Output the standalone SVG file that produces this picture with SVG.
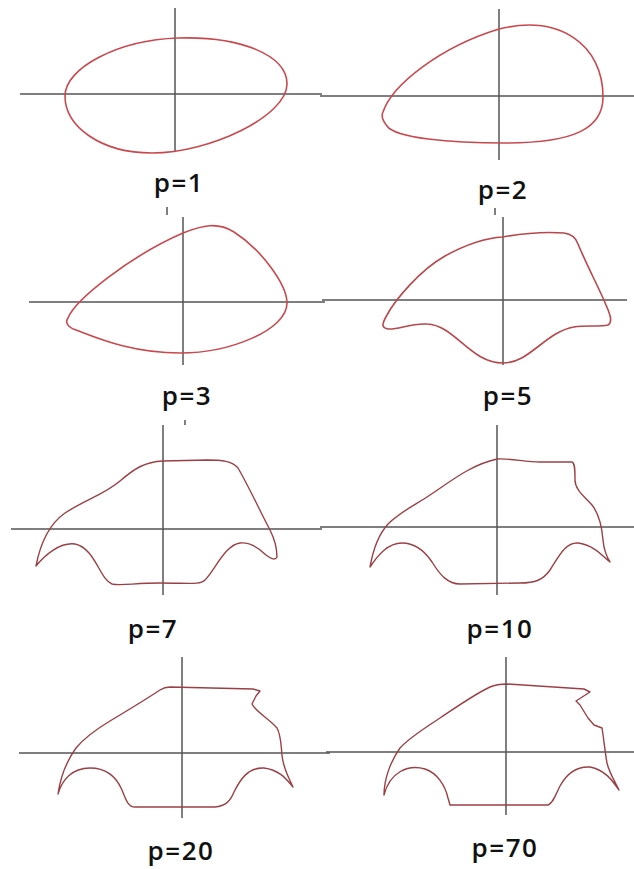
<svg xmlns="http://www.w3.org/2000/svg" width="634" height="869" viewBox="0 0 634 869">
<style>
.ax{stroke:#555;stroke-width:1.5;fill:none}
.c1{stroke:#c9484d;stroke-width:1.6;fill:none;stroke-linejoin:round}
.c2{stroke:#9a4045;stroke-width:1.4;fill:none;stroke-linejoin:round}
.lb{font-family:"Open Sans","Liberation Sans",sans-serif;font-size:26px;font-weight:600;fill:#111;text-anchor:middle;letter-spacing:1.5px}
</style>
<rect width="634" height="869" fill="#fff"/>
<g id="axes">
<line class="ax" x1="20" y1="94" x2="322" y2="94"/>
<line class="ax" x1="175" y1="8" x2="175" y2="152"/>
<line class="ax" x1="320" y1="96" x2="634" y2="96"/>
<line class="ax" x1="499" y1="9" x2="499" y2="160"/>
<line class="ax" x1="29" y1="302" x2="325" y2="302"/>
<line class="ax" x1="183" y1="217" x2="183" y2="365"/>
<line class="ax" x1="322" y1="300" x2="627" y2="300"/>
<line class="ax" x1="503" y1="217" x2="503" y2="365"/>
<line class="ax" x1="11" y1="529" x2="322" y2="529"/>
<line class="ax" x1="163" y1="425" x2="163" y2="595"/>
<line class="ax" x1="320" y1="527" x2="634" y2="527"/>
<line class="ax" x1="497" y1="425" x2="497" y2="595"/>
<line class="ax" x1="19" y1="753" x2="330" y2="753"/>
<line class="ax" x1="182" y1="657" x2="182" y2="818"/>
<line class="ax" x1="326" y1="752" x2="634" y2="752"/>
<line class="ax" x1="506" y1="657" x2="506" y2="815"/>
<line class="ax" x1="167" y1="207" x2="167" y2="215"/>
<line class="ax" x1="495" y1="208" x2="495" y2="215"/>
<line class="ax" x1="185" y1="420" x2="185" y2="425"/>
</g>
<g id="p1">
<path class="c1" d="M65,96 C65,68 118,40 178,38 C240,36 287,55 287,84 C287,116 210,153 152,153 C100,153 65,126 65,96 Z"/>
<text class="lb" x="179" y="192">p=1</text>
</g>
<g id="p2">
<path class="c1" d="M383,112 C392,85 440,47 499,29 C560,14 603,45 603,97 C603,128 575,143 505,143 C450,143 395,138 387,126 C382,120 381,116 383,112 Z"/>
<text class="lb" x="503" y="199">p=2</text>
</g>
<g id="p3">
<path class="c1" d="M68,318 C75,300 130,256 183,233 C203,225 218,222 234,232 C262,250 287,285 287,303 C287,330 230,353 180,353 C130,353 95,337 76,330 C67,327 65,322 68,318 Z"/>
<text class="lb" x="187" y="405">p=3</text>
</g>
<g id="p5">
<path class="c1" style="stroke:#b8474c" d="M503,237 C525,233 550,232 564,233 C572,234 576,238 578,244 C588,268 600,290 606,305 C610,314 613,322 608,325 C600,327 585,325 574,327 C545,332 530,363 503,363 C470,363 455,325 427,324 C410,323 398,330 388,329 C380,328 383,322 387,315 C395,300 420,270 445,256 C465,245 485,238 503,237 Z"/>
<text class="lb" x="508" y="405">p=5</text>
</g>
<g id="p7">
<path class="c2" d="M36,566 C40,545 48,525 65,513 C85,500 105,494 120,481 C135,468 145,462 163,461 L207,460 C222,460 232,461 238,468 C248,485 262,515 270,530 C276,542 277,550 277,557 C275,561 270,558 266,555 C260,549 250,542 240,543 C225,545 215,570 205,580 C200,585 190,583 160,583 C135,583 120,586 112,584 C100,580 95,548 75,544 C60,542 45,555 36,566 Z"/>
<text class="lb" x="153" y="638">p=7</text>
</g>
<g id="p10">
<path class="c2" d="M370,567 C373,550 378,535 388,524 C400,512 415,505 430,495 C450,482 470,465 497,459 C510,458 525,462 540,462 L572,462 C575,463 575,470 575,480 C575,490 585,497 592,505 C600,515 602,528 603,540 C604,550 606,556 610,562 C604,558 595,545 578,543 C565,542 558,558 550,570 C543,580 535,583 520,583 L460,584 C448,584 440,575 432,562 C424,550 415,543 402,543 C388,543 378,555 370,567 Z"/>
<text class="lb" x="500" y="638">p=10</text>
</g>
<g id="p20">
<path class="c2" d="M58,794 C60,780 66,762 76,748 C85,737 95,730 110,721 C125,712 145,700 160,690 C163,688 166,687 170,687 L253,689 L260,691 L256,696 L252,704 C256,712 268,718 277,728 C281,735 281,745 282,755 C283,768 288,776 293,787 C287,780 280,770 264,768 C248,767 240,780 234,792 C230,802 225,806 215,807 L135,807 C128,807 126,800 122,790 C116,776 105,768 90,768 C72,768 62,780 58,794 Z"/>
<text class="lb" x="181" y="860">p=20</text>
</g>
<g id="p70">
<path class="c2" d="M384,795 C384,780 390,762 400,748 C410,737 425,728 440,718 C458,706 475,694 490,687 C497,684 503,684 507,684 L584,689 L590,692 L576,701 L580,705 L588,718 L594,725 L602,728 C604,740 605,752 607,763 C609,772 614,780 619,790 C612,780 605,770 590,767 C575,766 566,775 560,786 C555,796 553,803 548,805 L450,805 L448,798 C445,785 437,773 425,769 C408,764 390,772 384,795 Z"/>
<text class="lb" x="505" y="857">p=70</text>
</g>
</svg>
